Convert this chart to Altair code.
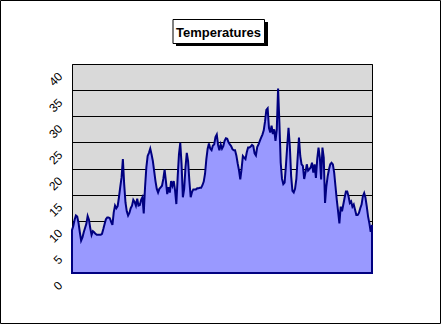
import altair as alt
import pandas as pd

# Temperature readings, read left to right off the reference
seg1 = [8.2, 9.0, 10.2, 11.0, 10.8, 9.6, 7.8, 6.2, 6.8, 7.8, 8.6, 9.4, 10.9, 10.2, 8.6,
        7.3, 8.0, 7.8, 7.5, 7.3, 7.3, 7.3, 7.3, 7.5, 8.4, 9.4, 10.3, 10.6, 10.6, 10.5,
        9.8, 9.2, 11.6, 12.9, 12.4, 12.8, 14.5, 16.5, 18.3, 21.8, 17.0, 13.5, 11.8, 11.0,
        11.5, 12.4, 12.9]
seg2 = [14.0, 13.6, 12.9, 14.2, 12.9, 13.0, 14.0, 14.5, 11.4, 16.4, 20.2, 22.4, 23.0,
        23.8, 22.7, 21.4, 19.5, 17.6, 16.1, 15.4, 16.1, 16.4, 16.7, 18.0, 19.8, 17.6,
        15.1, 16.4, 15.4, 17.6, 16.7, 17.6, 15.8, 13.2, 18.3, 22.7, 24.9, 20.8, 14.5,
        16.1, 20.2, 23.0, 21.4, 17.6, 14.5, 15.5]
seg3 = [16.0, 16.0, 16.0, 16.2, 16.2, 16.3, 16.3, 16.8, 17.5, 19.0, 21.8, 23.8, 24.8,
        23.8, 23.5, 24.4, 24.6, 26.0, 26.5, 24.5, 23.5, 24.6, 23.8, 24.3, 25.3, 25.8,
        25.7, 25.0, 24.6, 24.3, 23.7, 23.5, 23.5, 22.5, 21.0, 19.7, 17.9, 19.9, 22.4,
        22.1, 21.8, 23.1, 24.0, 24.0, 24.2]
seg4 = [24.5, 24.3, 22.9, 22.5, 24.1, 24.6, 25.3, 25.9, 26.5, 27.3, 29.0, 31.2, 31.5,
        27.8, 26.9, 28.2, 26.6, 27.5, 25.3, 27.5, 35.3, 28.8, 21.1, 18.0, 17.0, 17.3,
        20.5, 24.3, 27.8, 24.3, 18.6, 15.7, 15.4, 16.1, 18.0, 22.1, 25.9, 22.4, 20.8,
        20.5, 18.0, 19.2, 20.8, 19.6, 19.9, 20.2]
seg5 = [21.1, 19.2, 20.8, 18.2, 21.8, 24.0, 22.1, 17.9, 24.0, 22.1, 13.4, 16.6, 18.5,
        19.8, 20.8, 21.1, 20.8, 19.2, 16.6, 14.0, 11.8, 9.5, 12.7, 11.8, 13.1, 14.4,
        15.6, 15.6, 14.7, 13.4, 13.7, 12.7, 13.1, 12.1, 11.1, 11.1, 11.5, 12.4, 13.1,
        14.7, 15.3, 14.4, 12.7, 10.8, 9.5, 7.9, 9.2]

temps = seg1 + seg2 + seg3 + seg4 + seg5
y_ticks = [0, 5, 10, 15, 20, 25, 30, 35, 40]
title_text = "Temperatures"

df = pd.DataFrame({"i": list(range(len(temps))), "t": temps})
n = len(temps)

W, H = 300, 209
PL, PT, PR, PB = 72, 64, 69, 51

base = alt.Chart(df).encode(
    x=alt.X("i:Q", axis=None, scale=alt.Scale(domain=[0, n - 1], nice=False, zero=False)),
    y=alt.Y("t:Q", title=None,
            scale=alt.Scale(domain=[0, 40], nice=False),
            axis=alt.Axis(values=y_ticks, labelAngle=315, labelAlign="right",
                          labelBaseline="middle", labelOffset=10, labelPadding=12,
                          ticks=False, domain=False, grid=True, gridColor="#000000",
                          gridWidth=1, gridOpacity=1, labelFont="Liberation Sans",
                          labelFontSize=12, labelColor="#000000")),
)

area = base.mark_area(color="#9999FF", stroke="#000080", strokeWidth=2, fillOpacity=1)

one = alt.Data(values=[{}])

frame = alt.Chart(one).mark_rect(fill=None, stroke="#000000", strokeWidth=1).encode(
    x=alt.value(-PL + 0.5), x2=alt.value(W + PR - 0.5),
    y=alt.value(-PT + 0.5), y2=alt.value(H + PB - 0.5))

shadow = alt.Chart(one).mark_rect(fill="#000000").encode(
    x=alt.value(104), x2=alt.value(196), y=alt.value(-42), y2=alt.value(-18))
box = alt.Chart(one).mark_rect(fill="#FFFFFF", stroke="#000000", strokeWidth=1).encode(
    x=alt.value(101), x2=alt.value(192.5), y=alt.value(-44.5), y2=alt.value(-20.5))
title = alt.Chart(one).mark_text(font="Liberation Sans", fontSize=13, fontWeight="bold",
                                 color="#000000", align="center", baseline="alphabetic").encode(
    x=alt.value(146.5), y=alt.value(-27.5), text=alt.value(title_text))

chart = alt.layer(area, frame, shadow, box, title).properties(
    width=W, height=H,
    padding={"left": PL, "top": PT, "right": PR, "bottom": PB},
    autosize=alt.AutoSizeParams(type="none"),
    background="#FFFFFF",
).configure_view(fill="#D9D9D9", stroke="#000000", strokeWidth=1)

chart.save("out.html", embed_options={"renderer": "svg", "actions": False})
